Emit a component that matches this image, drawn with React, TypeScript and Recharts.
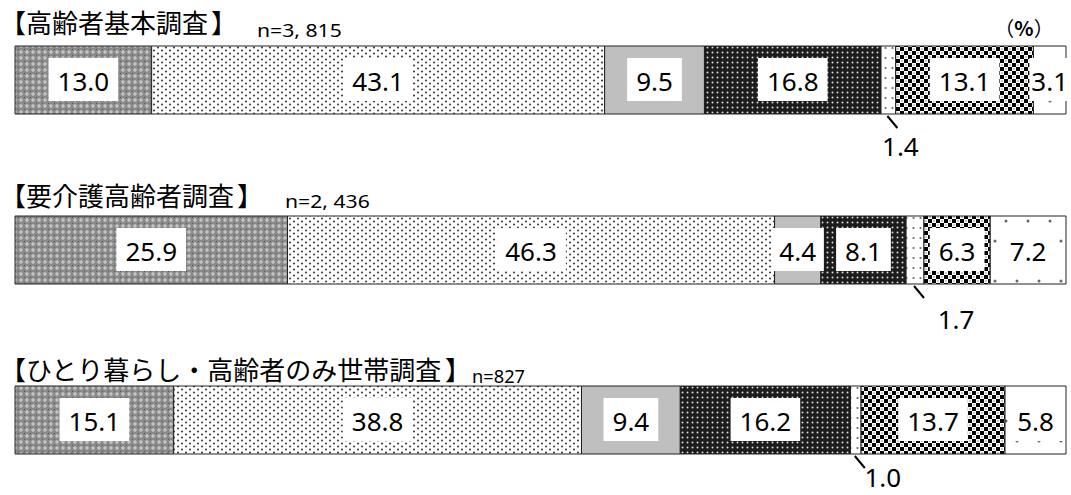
import { BarChart, Bar, XAxis, YAxis, LabelList } from "recharts";

const surveys = ["高齢者基本調査", "要介護高齢者調査", "ひとり暮らし・高齢者のみ世帯調査"];
const sampleSizes = ["3, 815", "2, 436", "827"];

// seven answer groups, values in %
const seg1 = [13.0, 25.9, 15.1];
const seg2 = [43.1, 46.3, 38.8];
const seg3 = [9.5, 4.4, 9.4];
const seg4 = [16.8, 8.1, 16.2];
const seg5 = [1.4, 1.7, 1.0];
const seg6 = [13.1, 6.3, 13.7];
const seg7 = [3.1, 7.2, 5.8];

const seriesValues = [seg1, seg2, seg3, seg4, seg5, seg6, seg7];
const seriesKeys = ["s1", "s2", "s3", "s4", "s5", "s6", "s7"];

const data = surveys.map((name, i) => {
  const row: Record<string, any> = { name };
  seriesKeys.forEach((k, j) => {
    row[k] = seriesValues[j][i];
  });
  return row;
});

const fills = ["url(#p1)", "url(#p2)", "#bfbfbf", "url(#p4)", "url(#p5)", "url(#p6)", "url(#p7)"];

// layout bits
const W = 1071;
const H = 495;
const BAND = 170;
const TFS = 26;
const titleBase = [33, 206, 380];
const nLeft = [257, 285, 472];
const nBase = [37, 208, 383];
const leaderDx = [12, 41, 27];
const leaderDy = [42, 45, 33];

const LABEL_FONT = "'Noto Sans', 'Open Sans', sans-serif";
const CJK_FONT = "'Noto Sans CJK JP', sans-serif";
const FS = 26;

function textWidth(t: string) {
  let w = 0;
  for (const c of t) w += c === "." ? 0.27 * FS : 0.572 * FS;
  return w;
}

function makeLabel(values: number[], small: boolean) {
  return (props: any) => {
    const { x, y, width, height } = props;
    const idx = props.index ?? Math.floor((y + height / 2 + 5) / BAND);
    const v = values[idx];
    if (v == null) return null;
    const text = v.toFixed(1);
    const cx = x + width / 2;
    const cy = y + height / 2;
    if (small) {
      const bottom = y + height;
      return (
        <g>
          <line x1={cx - 1} y1={bottom + 2} x2={cx + 9} y2={bottom + 14} stroke="#000" strokeWidth={2} />
          <text x={cx + leaderDx[idx]} y={bottom + leaderDy[idx]} textAnchor="middle" fontSize={FS} fontFamily={LABEL_FONT} fill="#000">
            {text}
          </text>
        </g>
      );
    }
    const tw = textWidth(text);
    const bw = Math.min(tw + 18, Math.max(width + 6, tw + 4));
    return (
      <g>
        <rect x={cx - bw / 2} y={cy - 22} width={bw} height={43} fill="#fff" />
        <text x={cx} y={cy + 11} textAnchor="middle" fontSize={FS} fontFamily={LABEL_FONT} fill="#000">
          {text}
        </text>
      </g>
    );
  };
}

function Patterns() {
  return (
    <svg width={0} height={0} style={{ position: "absolute" }}>
      <defs>
        <pattern id="p1" width={6} height={6} patternUnits="userSpaceOnUse">
          <rect width={6} height={6} fill="#8a8a8a" />
          <path d="M3 1v4M1 3h4" stroke="#d4d4d4" strokeWidth={1.1} />
          <rect x={0} y={0} width={1} height={1} fill="#555" />
        </pattern>
        <pattern id="p2" width={8} height={6} patternUnits="userSpaceOnUse">
          <rect width={8} height={6} fill="#fff" />
          <circle cx={2} cy={1.5} r={1.1} fill="#444" />
          <circle cx={6} cy={4.5} r={1.1} fill="#444" />
        </pattern>
        <pattern id="p4" width={5} height={5} patternUnits="userSpaceOnUse">
          <rect width={5} height={5} fill="#1c1c1c" />
          <circle cx={2.5} cy={2.5} r={1} fill="#d8d8d8" />
        </pattern>
        <pattern id="p5" width={7} height={10} patternUnits="userSpaceOnUse">
          <rect width={7} height={10} fill="#fff" />
          <circle cx={3.5} cy={3} r={1.1} fill="#666" />
        </pattern>
        <pattern id="p6" width={8} height={8} patternUnits="userSpaceOnUse">
          <rect width={8} height={8} fill="#fff" />
          <rect x={0} y={0} width={4} height={4} fill="#000" />
          <rect x={4} y={4} width={4} height={4} fill="#000" />
          <circle cx={6} cy={2} r={0.8} fill="#888" />
          <circle cx={2} cy={6} r={0.8} fill="#888" />
        </pattern>
        <pattern id="p7" width={22} height={40} patternUnits="userSpaceOnUse">
          <rect width={22} height={40} fill="#fff" />
          <circle cx={5} cy={6} r={1.5} fill="#666" />
          <circle cx={16} cy={26} r={1.5} fill="#666" />
        </pattern>
      </defs>
    </svg>
  );
}

export default function App() {
  return (
    <div style={{ position: "absolute", left: 0, top: 0, width: W, height: H, overflow: "hidden", background: "#fff" }}>
      <Patterns />
      <div style={{ position: "absolute", left: 0, top: -5 }}>
        <BarChart
          width={W}
          height={BAND * 3}
          data={data}
          layout="vertical"
          stackOffset="expand"
          barSize={68}
          margin={{ top: 0, right: 5, bottom: 0, left: 15 }}
        >
          <XAxis type="number" domain={[0, 1]} hide />
          <YAxis type="category" dataKey="name" hide />
          {seriesKeys.map((k, j) => (
            <Bar key={k} dataKey={k} stackId="a" fill={fills[j]} stroke="#222" strokeWidth={1} isAnimationActive={false}>
              <LabelList dataKey={k} content={makeLabel(seriesValues[j], j === 4)} />
            </Bar>
          ))}
        </BarChart>
      </div>
      <svg width={W} height={H} style={{ position: "absolute", left: 0, top: 0, pointerEvents: "none" }}>
        {surveys.map((s, i) => {
          const nText = `n=${sampleSizes[i]}`;
          return (
            <g key={s} fontFamily={CJK_FONT} fontSize={TFS} fill="#000">
              <text x={0} y={titleBase[i]}>【</text>
              <text x={TFS} y={titleBase[i]}>{s}</text>
              <text x={TFS + s.length * TFS + 3} y={titleBase[i]}>】</text>
              <text
                x={nLeft[i]}
                y={nBase[i]}
                fontSize={18}
                fontFamily={LABEL_FONT}
                textLength={nText.length * 10.6}
                lengthAdjust="spacingAndGlyphs"
              >
                {nText}
              </text>
            </g>
          );
        })}
        <text x={1024} y={36} textAnchor="middle" fontSize={20} fontFamily={CJK_FONT} fill="#000">
          （<tspan fontWeight="bold">%</tspan>）
        </text>
      </svg>
    </div>
  );
}
